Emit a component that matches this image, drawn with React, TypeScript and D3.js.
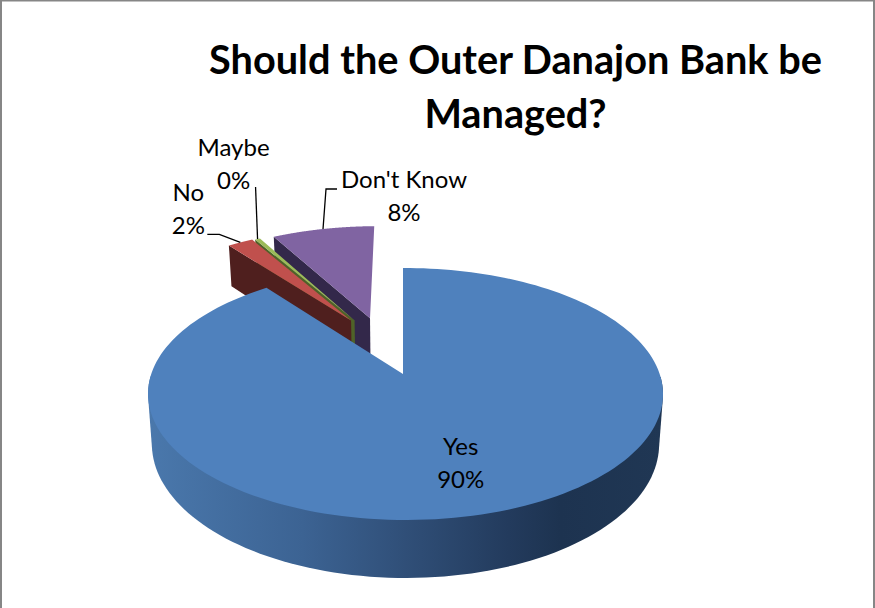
import React from "react";
import * as d3 from "d3";

// Survey responses, in percent
const categories = ["Yes", "No", "Maybe", "Don't Know"];
const shares = [89.6, 2.0, 0.4, 8.0];
const titleLines = ["Should the Outer Danajon Bank be", "Managed?"];

const WIDTH = 875;
const HEIGHT = 608;

// Perspective of the tilted disc: unit-disc coordinates map through a homography
const APEX = { x: 403, y: 374 };
const SCALE = { x: 254.2, y: 122.8 };
const PERSPECTIVE = { u: -0.0097, v: 0.1587 };

// Slice fills and explosion offsets in disc units, per category
const topFill = ["#4f81bd", "#c0504d", "#9bbb59", "#8064a2"];
const sideFill = ["url(#yesWall)", "#4f1f1e", "#4f6228", "#33284a"];
const explodeU = [0, -0.22, -0.205, -0.14];
const explodeV = [0, 0.47, 0.47, 0.49];

const percent = d3.format(".0%");
const total = d3.sum(shares);

type Pt = [number, number];

function project(u: number, v: number): Pt {
  const w = 1 + PERSPECTIVE.v * v + PERSPECTIVE.u * u;
  return [APEX.x + (SCALE.x * u) / w, APEX.y - (SCALE.y * v) / w];
}

// The floor of the disc: pushed down, more so nearer the viewer, and slightly narrower
function drop([x, y]: Pt): Pt {
  return [APEX.x + (x - APEX.x) * 0.985, y + 42 + (y - 268) * 0.0635];
}

const pieLayout = d3.pie<number>().sort(null).startAngle(0).endAngle(2 * Math.PI);
const arcs = pieLayout(shares);
const toPath = d3.line<Pt>();

function rimPoint(i: number, angle: number): Pt {
  return project(explodeU[i] + Math.sin(angle), explodeV[i] + Math.cos(angle));
}

function rim(i: number): Pt[] {
  const { startAngle, endAngle } = arcs[i];
  return d3.range(0, 181).map((k) => rimPoint(i, startAngle + ((endAngle - startAngle) * k) / 180));
}

function apexOf(i: number): Pt {
  return project(explodeU[i], explodeV[i]);
}

function midRim(i: number): Pt {
  return rimPoint(i, (arcs[i].startAngle + arcs[i].endAngle) / 2);
}

// Swept outline of the front wall of the large slice, between its rim and its floor
function frontWall(i: number): Pt[] {
  const front = rim(i).filter(([, y]) => y > APEX.y);
  return d3.polygonHull([...front, ...front.map(drop)]) as Pt[];
}

const wallStops: [number, string][] = [
  [0, "#4a78ac"],
  [0.3, "#3c6393"],
  [0.5, "#304f78"],
  [0.7, "#233b5d"],
  [0.8, "#1d3350"],
  [1, "#203754"],
];

// Drawn back to front so the large slice overlaps the small exploded ones
const drawOrder = [3, 2, 1, 0];

const labelFont = { fontFamily: "Lato, 'Open Sans', sans-serif", fontSize: 24, fill: "#000" };

function Label({ x, y, name, share }: { x: number; y: number; name: string; share: number }) {
  return (
    <g style={labelFont} textAnchor="middle">
      <text x={x} y={y}>{name}</text>
      <text x={x} y={y + 33}>{percent(share / total)}</text>
    </g>
  );
}

export default function App() {
  const leaderDK = midRim(3);
  const leaderNo = midRim(1);
  const leaderMaybe = midRim(2);
  const yesMid = project(0.205, -0.595);

  return (
    <svg
      width={WIDTH}
      height={HEIGHT}
      viewBox={`0 0 ${WIDTH} ${HEIGHT}`}
      style={{ position: "fixed", left: 0, top: 0, display: "block", background: "#fff" }}
    >
      <defs>
        <linearGradient id="yesWall" gradientUnits="userSpaceOnUse" x1={148} x2={663} y1={0} y2={0}>
          {wallStops.map(([o, c]) => (
            <stop key={o} offset={o} stopColor={c} />
          ))}
        </linearGradient>
      </defs>

      {/* frame: top, left and right edges only */}
      <path
        d={`M1 ${HEIGHT} V0.5 H${WIDTH - 1} V${HEIGHT}`}
        fill="none"
        stroke="#868686"
        strokeWidth={2}
      />

      {titleLines.map((line, i) => (
        <text
          key={line}
          x={515.5}
          y={74 + i * 54}
          textAnchor="middle"
          style={{ fontFamily: "Lato, 'Open Sans', sans-serif", fontWeight: 700, fontSize: 39.7, fill: "#000" }}
        >
          {line}
        </text>
      ))}

      {drawOrder.map((i) => {
        const top = rim(i);
        const apex = apexOf(i);
        return (
          <g key={categories[i]}>
            {i === 0 ? (
              <path d={toPath(frontWall(i)) + "Z"} fill={sideFill[i]} />
            ) : (
              // cut face on the leading edge of an exploded slice
              <path d={toPath([apex, top[0], drop(top[0]), drop(apex)]) + "Z"} fill={sideFill[i]} />
            )}
            <path d={toPath([apex, ...top]) + "Z"} fill={topFill[i]} />
          </g>
        );
      })}

      {/* leader lines */}
      <g fill="none" stroke="#000" strokeWidth={1.3}>
        <path d={toPath([[leaderDK[0] + 14, leaderDK[1] - 40], [leaderDK[0] + 3, leaderDK[1] - 40], leaderDK])!} />
        <path d={toPath([[leaderNo[0] - 33, leaderNo[1] - 8], [leaderNo[0] - 21, leaderNo[1] - 8], leaderNo])!} />
        <path d={toPath([[leaderMaybe[0] - 2, leaderMaybe[1] - 52], leaderMaybe])!} />
      </g>

      <Label x={leaderDK[0] + 81} y={leaderDK[1] - 41} name={categories[3]} share={shares[3]} />
      <Label x={leaderNo[0] - 52} y={leaderNo[1] - 41} name={categories[1]} share={shares[1]} />
      <Label x={leaderMaybe[0] - 24} y={leaderMaybe[1] - 83} name={categories[2]} share={shares[2]} />
      <Label x={yesMid[0]} y={yesMid[1]} name={categories[0]} share={shares[0]} />
    </svg>
  );
}
